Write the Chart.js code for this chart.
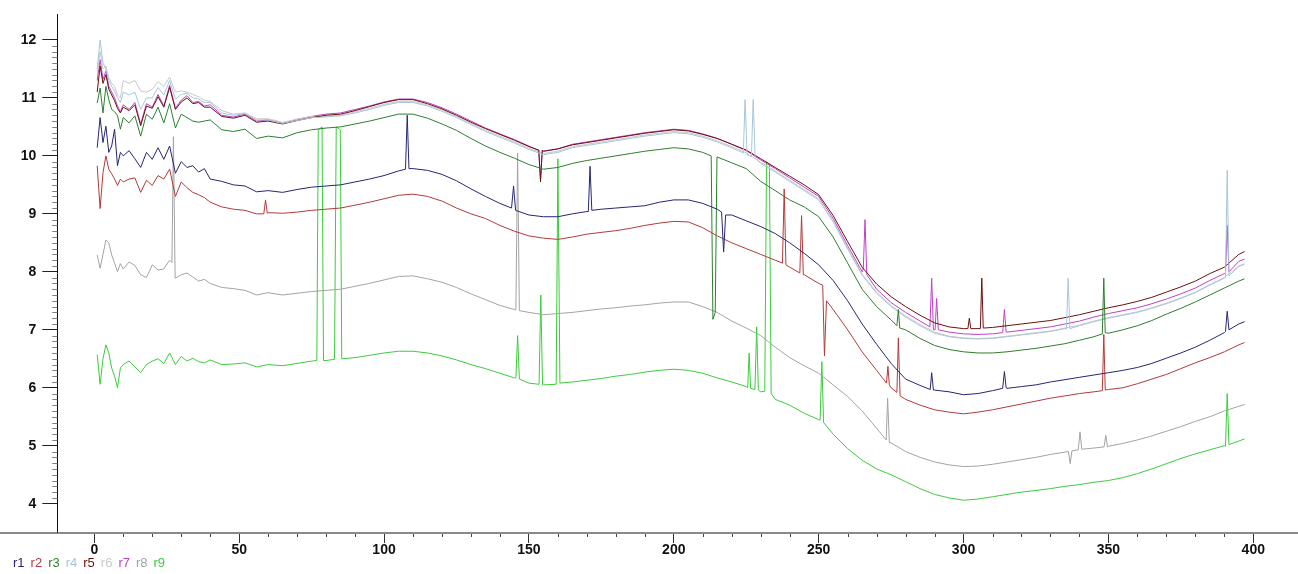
<!DOCTYPE html>
<html>
<head>
<meta charset="utf-8">
<script src="https://cdn.jsdelivr.net/npm/chart.js@4.4.1/dist/chart.umd.min.js"></script>
<style>
    html, body { margin: 0; padding: 0; background: #fff; }
    #wrap { position: relative; width: 1298px; height: 574px; }
    #legend { position: absolute; left: 13px; top: 555px; display: flex; gap: 6px;
              font: 13px 'Liberation Sans', Arial, sans-serif; line-height: 15px; }
</style>
</head>
<body>
<div id="wrap">
    <canvas id="spectra"></canvas>
    <div id="legend"></div>
</div>
<script>
// sample positions shared by every run
const xs = [1,2,3,4,5,6,7,8,9,10,12,14,16,18,20,22,24,26,28,30,32,34,36,38,40,44,48,52,56,60,65,70,75,80,85,90,95,100,
    105,110,115,120,125,130,135,140,145,150,155,160,165,170,175,180,185,190,195,200,205,210,215,220,225,230,235,240,245,
    250,255,260,265,270,275,280,285,290,295,300,305,310,315,320,325,330,335,340,345,350,355,360,365,370,375,380,385,390,395,397];

const r1 = [10.14,10.66,10.23,10.51,10.06,10.17,10.46,9.83,10.06,10.0,10.09,9.95,9.8,10.06,9.94,10.14,9.94,10.17,9.7,9.9,9.8,9.83,9.72,9.78,9.6,9.56,9.5,9.48,9.38,9.4,9.37,9.42,9.46,9.48,9.5,9.55,9.6,9.66,
    9.74,9.78,9.75,9.68,9.57,9.43,9.3,9.18,9.08,8.98,8.95,8.95,9.0,9.04,9.08,9.1,9.12,9.14,9.2,9.24,9.24,9.18,9.08,8.98,8.88,8.78,8.66,8.5,8.32,
    8.12,7.85,7.5,7.1,6.75,6.42,6.15,6.04,5.96,5.93,5.88,5.9,5.95,5.99,6.02,6.05,6.1,6.14,6.18,6.22,6.26,6.3,6.35,6.42,6.51,6.6,6.7,6.82,6.95,7.1,7.14];
const r2 = [9.83,9.09,9.71,10.0,9.77,9.69,9.6,9.49,9.6,9.55,9.6,9.62,9.37,9.58,9.49,9.66,9.6,9.77,9.3,9.55,9.45,9.37,9.33,9.28,9.2,9.12,9.08,9.06,9.0,9.02,9.01,9.03,9.06,9.08,9.1,9.15,9.2,9.26,
    9.32,9.34,9.3,9.22,9.1,9.0,8.92,8.8,8.7,8.62,8.58,8.56,8.6,8.65,8.68,8.71,8.75,8.8,8.84,8.87,8.86,8.76,8.62,8.5,8.4,8.3,8.2,8.08,7.95,
    7.8,7.35,7.0,6.62,6.3,6.0,5.8,5.7,5.62,5.58,5.55,5.58,5.62,5.67,5.72,5.77,5.82,5.86,5.9,5.93,5.97,6.0,6.07,6.15,6.23,6.33,6.43,6.52,6.62,6.74,6.78];
const r3 = [10.91,11.17,10.74,11.2,10.97,10.8,10.76,10.7,10.46,10.66,10.57,10.69,10.34,10.72,10.63,10.84,10.57,10.9,10.48,10.72,10.66,10.6,10.58,10.6,10.62,10.45,10.42,10.46,10.3,10.34,10.31,10.4,10.45,10.48,10.5,10.55,10.6,10.66,
    10.72,10.72,10.65,10.55,10.44,10.3,10.17,10.06,9.96,9.85,9.77,9.8,9.87,9.92,9.96,10.0,10.04,10.08,10.11,10.14,10.12,10.06,9.98,9.88,9.78,9.56,9.4,9.24,9.12,
    8.95,8.6,8.15,7.7,7.4,7.17,7.0,6.85,6.73,6.66,6.62,6.6,6.6,6.62,6.65,6.68,6.72,6.76,6.82,6.88,6.94,7.0,7.07,7.16,7.27,7.37,7.48,7.6,7.72,7.84,7.88];
const r4 = [11.5,12.0,11.6,11.5,11.3,11.2,11.12,11.0,10.92,11.1,11.05,11.1,10.8,11.0,11.0,11.18,11.05,11.3,10.98,11.06,11.08,11.0,10.98,10.92,10.92,10.74,10.7,10.73,10.62,10.62,10.56,10.61,10.66,10.67,10.69,10.74,10.8,10.87,
    10.92,10.92,10.86,10.77,10.66,10.54,10.42,10.32,10.22,10.11,10.02,10.06,10.14,10.18,10.22,10.26,10.3,10.34,10.37,10.4,10.38,10.32,10.24,10.14,10.03,9.87,9.72,9.56,9.4,
    9.24,8.86,8.39,7.94,7.63,7.4,7.22,7.07,6.94,6.88,6.85,6.84,6.85,6.88,6.91,6.94,6.97,7.02,7.07,7.14,7.2,7.25,7.3,7.37,7.45,7.54,7.64,7.77,7.89,8.09,8.13];
const r5 = [11.1,11.55,11.25,11.4,11.15,11.05,10.95,10.82,10.74,10.84,10.78,10.88,10.52,10.86,10.82,11.02,10.84,11.18,10.8,10.93,11.0,10.9,10.92,10.84,10.84,10.68,10.65,10.7,10.58,10.6,10.55,10.61,10.66,10.7,10.72,10.78,10.85,10.92,
    10.97,10.97,10.9,10.81,10.7,10.58,10.47,10.37,10.27,10.16,10.08,10.12,10.19,10.23,10.27,10.31,10.35,10.39,10.42,10.45,10.43,10.37,10.3,10.2,10.1,9.95,9.8,9.65,9.5,
    9.33,8.97,8.52,8.08,7.79,7.57,7.4,7.25,7.12,7.05,7.02,7.02,7.04,7.07,7.1,7.13,7.16,7.21,7.26,7.32,7.38,7.43,7.49,7.56,7.65,7.74,7.84,7.97,8.08,8.3,8.35];
const r6 = [11.4,11.8,11.5,11.55,11.35,11.25,11.2,11.05,11.0,11.3,11.25,11.3,11.12,11.1,11.15,11.28,11.2,11.36,11.1,11.12,11.1,11.06,11.02,10.96,10.94,10.78,10.72,10.74,10.64,10.64,10.58,10.63,10.68,10.68,10.7,10.76,10.82,10.89,
    10.94,10.94,10.88,10.79,10.68,10.56,10.44,10.34,10.24,10.13,10.04,10.08,10.16,10.2,10.24,10.28,10.32,10.36,10.39,10.42,10.4,10.34,10.26,10.16,10.05,9.89,9.74,9.58,9.42,
    9.26,8.88,8.41,7.96,7.65,7.42,7.24,7.09,6.96,6.89,6.86,6.85,6.86,6.89,6.92,6.95,6.98,7.03,7.08,7.15,7.21,7.26,7.31,7.38,7.46,7.55,7.65,7.78,7.9,8.1,8.14];
const r7 = [11.3,11.66,11.32,11.46,11.2,11.1,11.0,10.86,10.76,10.88,10.8,10.92,10.55,10.9,10.84,11.06,10.86,11.22,10.82,10.96,11.04,10.92,10.94,10.86,10.88,10.7,10.67,10.72,10.6,10.62,10.56,10.63,10.68,10.72,10.74,10.8,10.86,10.93,
    10.98,10.98,10.92,10.83,10.72,10.6,10.48,10.38,10.28,10.17,10.08,10.12,10.2,10.24,10.28,10.32,10.36,10.4,10.43,10.46,10.44,10.38,10.3,10.2,10.09,9.93,9.78,9.62,9.46,
    9.3,8.92,8.45,8.0,7.7,7.47,7.3,7.15,7.02,6.96,6.93,6.92,6.93,6.96,6.99,7.02,7.05,7.1,7.15,7.22,7.28,7.33,7.38,7.45,7.53,7.62,7.72,7.85,7.97,8.18,8.22];
const r8 = [8.29,8.06,8.3,8.55,8.5,8.29,8.15,8.0,8.14,8.05,8.17,8.11,7.95,7.9,8.12,8.03,8.05,8.2,7.89,7.95,7.98,7.91,7.84,7.87,7.8,7.73,7.71,7.68,7.6,7.64,7.6,7.63,7.66,7.68,7.7,7.75,7.8,7.86,
    7.92,7.93,7.88,7.82,7.73,7.62,7.52,7.42,7.35,7.3,7.26,7.28,7.3,7.33,7.36,7.38,7.41,7.43,7.46,7.48,7.48,7.4,7.3,7.15,7.03,6.9,6.7,6.52,6.38,
    6.25,6.05,5.85,5.6,5.3,5.05,4.9,4.8,4.72,4.67,4.64,4.65,4.68,4.72,4.76,4.8,4.85,4.89,4.93,4.96,4.99,5.04,5.1,5.17,5.25,5.33,5.42,5.5,5.6,5.68,5.71];
const r9 = [6.57,6.06,6.5,6.74,6.6,6.34,6.2,6.0,6.34,6.4,6.46,6.36,6.26,6.4,6.46,6.5,6.42,6.6,6.4,6.54,6.46,6.51,6.45,6.43,6.48,6.4,6.41,6.43,6.36,6.4,6.38,6.42,6.46,6.47,6.5,6.52,6.56,6.6,
    6.63,6.63,6.6,6.55,6.48,6.4,6.33,6.25,6.17,6.08,6.05,6.07,6.1,6.13,6.16,6.2,6.23,6.27,6.3,6.32,6.3,6.25,6.17,6.1,6.02,5.93,5.8,5.7,5.56,
    5.45,5.2,4.95,4.75,4.6,4.5,4.38,4.26,4.16,4.1,4.06,4.08,4.12,4.16,4.2,4.23,4.26,4.3,4.33,4.37,4.4,4.45,4.52,4.6,4.69,4.78,4.86,4.93,5.0,5.08,5.12];

// narrow peaks, each group is [x, y] points
const r1Spikes = [
    [[107.4, 9.77], [108, 10.7], [108.6, 9.78]],
    [[144, 9.1], [144.7, 9.48], [145.4, 9.06]],
    [[170.5, 9.04], [171.1, 9.82], [171.7, 9.06]],
    [[216.5, 9.03], [217.2, 8.34], [217.9, 8.98]],
    [[288.5, 5.97], [289, 6.26], [289.6, 5.96]],
    [[313.5, 5.99], [314.1, 6.28], [314.7, 6.0]],
    [[390.4, 6.97], [391, 7.32], [391.6, 7.0]]
];
const r2Spikes = [
    [[58.5, 9.0], [59.1, 9.24], [59.7, 9.01]],
    [[237.5, 8.15], [238.1, 9.43], [238.7, 8.12]],
    [[243.5, 7.98], [244.1, 8.97], [244.7, 7.95]],
    [[251.4, 7.77], [252, 6.55], [252.7, 7.5]],
    [[273.4, 6.08], [273.9, 6.37], [274.4, 6.05]],
    [[277, 5.92], [277.5, 6.86], [278.1, 5.86]],
    [[347.9, 5.95], [348.4, 6.92], [348.9, 5.96]]
];
const r3Spikes = [
    [[212.9, 10.0], [213.5, 7.18], [214.3, 7.3], [214.9, 9.98]],
    [[277, 7.07], [277.5, 7.35], [278, 7.03]],
    [[347.9, 6.93], [348.4, 7.89], [348.9, 6.95]]
];
const r4Spikes = [
    [[224, 10.05], [224.6, 10.97], [225.3, 10.02], [226.8, 9.99], [227.4, 10.97], [228.1, 9.96]],
    [[335.5, 7.01], [336.1, 7.89], [336.7, 7.02]],
    [[390.4, 7.9], [391, 9.75], [391.6, 7.93]]
];
const r5Spikes = [
    [[153.4, 10.1], [154, 9.55], [154.6, 10.1]],
    [[301.5, 7.02], [302, 7.2], [302.5, 7.02]],
    [[305.8, 7.02], [306.3, 7.89], [306.8, 7.03]]
];
const r6Spikes = [];
const r7Spikes = [
    [[153.4, 10.09], [154, 9.6], [154.6, 10.08]],
    [[265.4, 8.05], [266, 8.9], [266.6, 7.95]],
    [[288.4, 7.05], [289, 7.89], [289.6, 7.0], [290.2, 7.0], [290.7, 7.54], [291.3, 7.0]],
    [[313.5, 6.95], [314.1, 7.35], [314.7, 6.96]],
    [[390.4, 7.98], [391, 8.8], [391.6, 8.0]]
];
const r8Spikes = [
    [[26.8, 8.16], [27.3, 10.33], [27.9, 7.89]],
    [[145.5, 7.34], [146.1, 10.05], [146.7, 7.33]],
    [[273.3, 5.1], [273.8, 5.82], [274.4, 5.05]],
    [[336.2, 4.9], [336.8, 4.69], [337.4, 4.91]],
    [[339.6, 4.93], [340.2, 5.24], [340.8, 4.94]],
    [[348.5, 4.98], [349.1, 5.18], [349.7, 4.98]]
];
const r9Spikes = [
    [[76.8, 6.47], [77.3, 10.45], [78.6, 10.5], [79.1, 6.47]],
    [[82.9, 6.49], [83.5, 10.5], [84.9, 10.45], [85.4, 6.5]],
    [[145.5, 6.17], [146.1, 6.9], [146.7, 6.15]],
    [[153.5, 6.06], [154.1, 7.6], [154.7, 6.05]],
    [[159.4, 6.06], [160, 9.95], [160.7, 6.08]],
    [[225.5, 6.0], [226, 6.6], [226.5, 5.99]],
    [[228, 5.97], [228.6, 7.05], [229.2, 5.96]],
    [[231.4, 5.94], [232, 9.9], [233, 9.85], [233.6, 5.9]],
    [[250.5, 5.44], [251.1, 6.45], [251.7, 5.4]],
    [[390.4, 4.99], [391, 5.9], [391.6, 5.02]]
];

let labels = ['r1', 'r2', 'r3', 'r4', 'r5', 'r6', 'r7', 'r8', 'r9'];
let colorHex = ['#262673', '#b23a3a', '#2f7d2f', '#a7c7d8', '#6b1010', '#c9c9c9', '#c040c8', '#a3a3a3', '#3ccc3c'];
let series = [r1, r2, r3, r4, r5, r6, r7, r8, r9];
let spikes = [r1Spikes, r2Spikes, r3Spikes, r4Spikes, r5Spikes, r6Spikes, r7Spikes, r8Spikes, r9Spikes];

let xTickLabels = [0, 50, 100, 150, 200, 250, 300, 350, 400];
let yTickLabels = [4, 5, 6, 7, 8, 9, 10, 11, 12];

// axis ranges (left edge of the plot sits at x = -12.77)
const xMin = -12.77, xMax = 415.43, yMin = 3.5, yMax = 12.44;

function buildPoints(vals, groups) {
    let pts = [];
    xs.forEach(function (x, i) {
        let covered = groups.some(function (g) { return x >= g[0][0] && x <= g[g.length - 1][0]; });
        if (!covered) pts.push({ x: x, y: vals[i] });
    });
    groups.forEach(function (g) {
        g.forEach(function (p) { pts.push({ x: p[0], y: p[1] }); });
    });
    pts.sort(function (a, b) { return a.x - b.x; });
    return pts;
}

// x axis line runs on to the left edge, plus the small minor ticks
const axisExtras = {
    id: 'axisExtras',
    afterDraw: function (chart) {
        let c = chart.ctx;
        let xScale = chart.scales.x, yScale = chart.scales.y;
        let left = chart.chartArea.left;
        let y0 = Math.round(yScale.getPixelForValue(yMin));
        c.save();
        c.strokeStyle = '#8a8a8a';
        c.lineWidth = 2;
        c.beginPath();
        c.moveTo(0, y0);
        c.lineTo(left, y0);
        c.stroke();

        c.lineWidth = 1;
        c.strokeStyle = '#808080';
        c.beginPath();
        for (let k = 40; k <= 120; k++) {
            if (k % 10 === 0) continue;
            let py = Math.round(yScale.getPixelForValue(k / 10)) + 0.5;
            c.moveTo(left - 5, py);
            c.lineTo(left, py);
        }
        c.stroke();

        c.strokeStyle = '#444';
        c.beginPath();
        for (let v = 10; v < 400; v += 10) {
            if (v % 50 === 0) continue;
            let px = Math.round(xScale.getPixelForValue(v)) + 0.5;
            c.moveTo(px, y0 + 1);
            c.lineTo(px, y0 + 4);
        }
        c.stroke();
        c.restore();
    }
};

let tickFont = { family: "'Liberation Sans', Arial, sans-serif", size: 14, weight: 'bold' };

let ctx = document.getElementById('spectra').getContext('2d');
let myChart = new Chart(ctx, {
    type: 'line',
    data: {
        datasets: series.map(function (s, i) {
            return {
                label: labels[i],
                data: buildPoints(s, spikes[i]),
                borderColor: colorHex[i],
                borderWidth: 1,
                pointRadius: 0,
                tension: 0,
                fill: false
            };
        })
    },
    options: {
        responsive: true,
        maintainAspectRatio: false,
        animation: false,
        events: [],
        layout: { padding: { top: 11, bottom: 41.3, left: 0, right: 0 } },
        plugins: { legend: { display: false }, tooltip: { enabled: false } },
        scales: {
            x: {
                type: 'linear', min: xMin, max: xMax, position: { y: yMin },
                afterBuildTicks: function (axis) { axis.ticks = xTickLabels.map(function (v) { return { value: v }; }); },
                ticks: { font: tickFont, color: '#111', padding: 0, maxRotation: 0, autoSkip: false },
                grid: { drawOnChartArea: false, tickLength: 9, tickColor: '#333', tickWidth: 1 },
                border: { color: '#8a8a8a', width: 2 }
            },
            y: {
                type: 'linear', min: yMin, max: yMax, position: 'left',
                afterBuildTicks: function (axis) { axis.ticks = yTickLabels.map(function (v) { return { value: v }; }); },
                afterFit: function (axis) { axis.width = 57.3; },
                ticks: { font: tickFont, color: '#111', padding: 6 },
                grid: { drawOnChartArea: false, tickLength: 15, tickColor: '#222', tickWidth: 1 },
                border: { color: '#111', width: 1 }
            }
        }
    },
    plugins: [axisExtras]
});

// legend row under the axis
let legend = document.getElementById('legend');
labels.forEach(function (l, i) {
    let span = document.createElement('span');
    span.textContent = l;
    span.style.color = colorHex[i];
    legend.appendChild(span);
});
</script>
</body>
</html>
